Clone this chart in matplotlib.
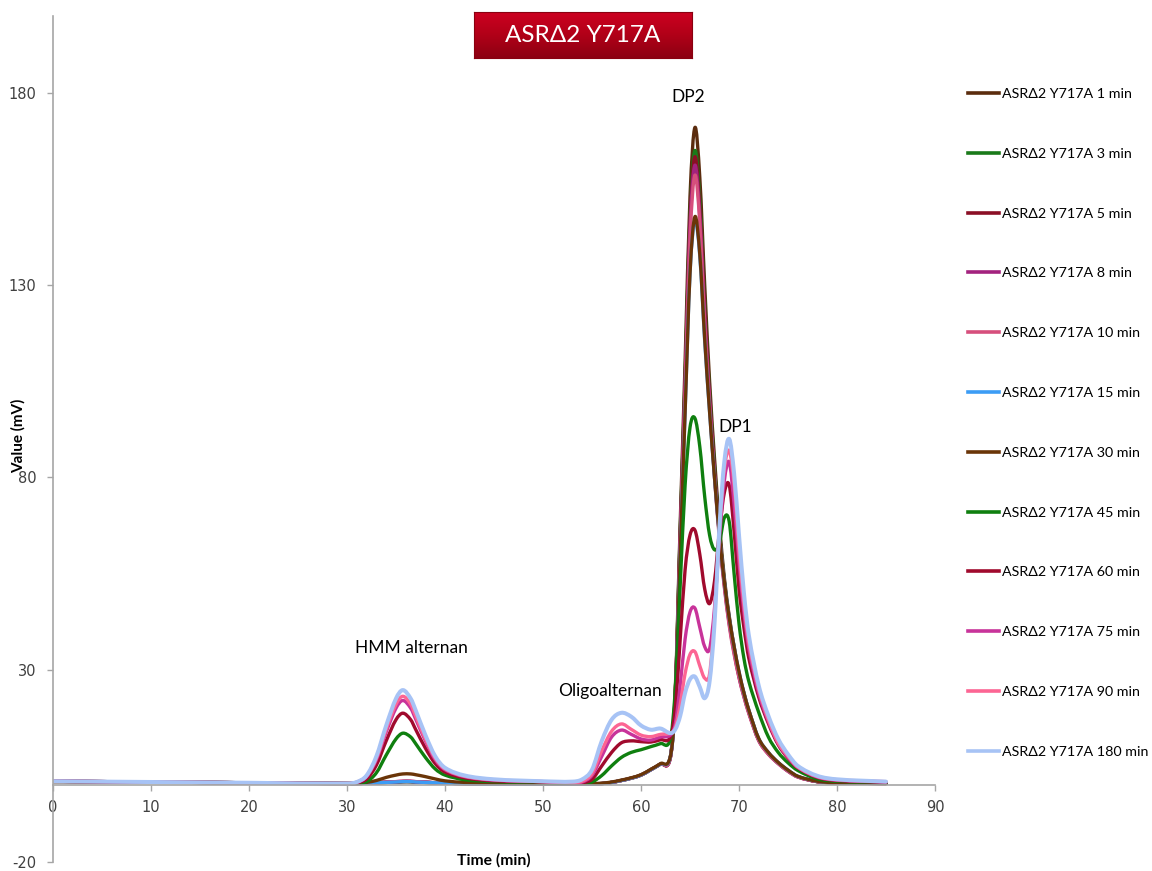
import numpy as np
import matplotlib
matplotlib.use("Agg")
import matplotlib.pyplot as plt
from matplotlib.path import Path
from matplotlib.patches import PathPatch
from matplotlib.lines import Line2D
from matplotlib.colors import LinearSegmentedColormap

plt.rcParams['font.family'] = ['Lato', 'DejaVu Sans']
plt.rcParams['axes.unicode_minus'] = False

# retention time grid (min)
time = [0, 10, 20, 30, 31, 32, 33, 34, 35, 35.7, 36.5, 37, 38, 39, 40, 42, 45, 50,
        53, 54, 55, 56, 57, 58, 59, 60, 61, 62,
        63, 63.5, 64, 64.5, 65, 65.5, 66, 66.5, 67, 67.5, 68, 68.5, 69, 69.5, 70,
        70.5, 71, 72, 73, 74, 75, 76, 78, 80, 85]

labels = ['ASRΔ2 Y717A 1 min', 'ASRΔ2 Y717A 3 min', 'ASRΔ2 Y717A 5 min',
          'ASRΔ2 Y717A 8 min', 'ASRΔ2 Y717A 10 min', 'ASRΔ2 Y717A 15 min',
          'ASRΔ2 Y717A 30 min', 'ASRΔ2 Y717A 45 min', 'ASRΔ2 Y717A 60 min',
          'ASRΔ2 Y717A 75 min', 'ASRΔ2 Y717A 90 min', 'ASRΔ2 Y717A 180 min']

colors = ['#5b2c0e', '#1a7a1a', '#8b0f25', '#a3237e', '#d64f7c', '#3c9cf5',
          '#6a3508', '#0f7f0f', '#a00a2d', '#c8339a', '#fc6593', '#a7c3f5']

# signal (mV) for each sample
min1 = [1.0, 0.8, 0.6, 0.4,
        0.4, 0.5, 0.6, 0.7, 0.8, 0.9, 0.9, 0.8, 0.7, 0.6, 0.5, 0.4, 0.3, 0.3,
        0.3, 0.3, 0.3, 0.4, 0.7, 1.2, 1.8, 2.6, 4.0, 5.5,
        7.5, 25, 68, 110, 153, 171, 158, 130, 105, 85, 68, 54, 44, 36, 29,
        24, 19.5, 12, 8.3, 5.8, 3.8, 2.2, 0.9, 0.6, 0.4]
min3 = [1.0, 0.8, 0.6, 0.4,
        0.4, 0.5, 0.6, 0.7, 0.8, 0.9, 0.9, 0.8, 0.7, 0.6, 0.5, 0.4, 0.3, 0.3,
        0.3, 0.3, 0.3, 0.4, 0.7, 1.2, 1.8, 2.6, 4.0, 5.5,
        7.3, 24, 66, 106, 148, 165, 152, 125, 102, 83, 66, 53, 43, 35, 28.5,
        23.5, 19, 11.8, 8.2, 5.7, 3.7, 2.2, 0.9, 0.6, 0.4]
min5 = [1.0, 0.8, 0.6, 0.4,
        0.4, 0.5, 0.6, 0.7, 0.8, 0.9, 0.9, 0.8, 0.7, 0.6, 0.5, 0.4, 0.3, 0.3,
        0.3, 0.3, 0.3, 0.4, 0.7, 1.2, 1.8, 2.6, 4.0, 5.5,
        7.2, 24, 65, 105, 147, 163.4, 150, 124, 101, 82, 65.5, 52.5, 42.5, 35, 28.5,
        23.5, 19, 11.8, 8.2, 5.7, 3.7, 2.2, 0.9, 0.6, 0.4]
min8 = [1.0, 0.8, 0.6, 0.4,
        0.4, 0.5, 0.6, 0.8, 0.9, 1.0, 1.0, 0.9, 0.8, 0.6, 0.5, 0.4, 0.3, 0.3,
        0.3, 0.3, 0.3, 0.4, 0.7, 1.2, 1.8, 2.6, 4.0, 5.5,
        7.2, 23.5, 64, 104, 145, 161.2, 148, 122, 100, 81, 65, 52, 42, 34.5, 28,
        23, 18.8, 11.7, 8.1, 5.6, 3.6, 2.1, 0.9, 0.6, 0.4]
min10 = [1.0, 0.8, 0.6, 0.4,
         0.4, 0.5, 0.6, 0.8, 0.9, 1.0, 1.0, 0.9, 0.8, 0.6, 0.5, 0.4, 0.3, 0.3,
         0.3, 0.3, 0.3, 0.4, 0.7, 1.2, 1.8, 2.6, 4.0, 5.5,
         7.1, 23, 63, 102, 142, 158.6, 146, 120, 99, 80, 64, 51.5, 41.5, 34, 28,
         23, 18.6, 11.6, 8.0, 5.6, 3.6, 2.1, 0.9, 0.6, 0.4]
min15 = [1.0, 0.8, 0.6, 0.4,
         0.4, 0.5, 0.6, 0.7, 0.8, 0.9, 0.9, 0.8, 0.7, 0.6, 0.5, 0.4, 0.3, 0.3,
         0.3, 0.3, 0.3, 0.4, 0.7, 1.2, 1.8, 2.6, 4.0, 5.5,
         7.4, 22, 60, 97, 133, 147, 137.5, 115.5, 97, 80, 65, 53, 43.5, 36, 29.5,
         24, 19.5, 12.2, 8.5, 5.9, 3.9, 2.3, 1.0, 0.6, 0.5]
min30 = [1.0, 0.8, 0.6, 0.4,
         0.5, 0.7, 1.2, 2.0, 2.6, 2.9, 2.9, 2.7, 2.2, 1.6, 1.1, 0.7, 0.5, 0.4,
         0.4, 0.4, 0.4, 0.5, 0.8, 1.3, 1.9, 2.7, 4.1, 5.6,
         7.5, 22, 60, 97, 133, 147.8, 138, 116, 97, 80, 65, 53, 43.5, 36, 29.5,
         24, 19.5, 12.2, 8.5, 5.9, 3.9, 2.3, 1.0, 0.6, 0.5]
min45 = [0.9, 0.8, 0.6, 0.4,
         0.5, 0.9, 3.2, 7.8, 12, 13.5, 12.5, 10.8, 7.2, 4.2, 2.6, 1.4, 0.9, 0.6,
         0.5, 0.5, 0.8, 2.5, 5.0, 7.2, 8.5, 9.2, 10, 10.8,
         12, 25, 52, 78, 93, 95.4, 88, 75, 65, 61.2, 63, 69.5, 68.5, 55, 42,
         33, 27, 19, 12.5, 8.5, 5.8, 3.8, 1.6, 1.0, 0.6]
min60 = [0.9, 0.8, 0.6, 0.4,
         0.6, 1.6, 5.2, 11.5, 17, 18.7, 17, 14.5, 9.6, 5.6, 3.4, 1.9, 1.1, 0.8,
         0.6, 0.6, 1.5, 5.0, 8.5, 11, 11.5, 11.3, 11.2, 11.8,
         12.5, 20, 38, 56, 65, 66.3, 60, 51, 47.2, 53, 66, 76, 78, 66, 51,
         41, 33, 23, 16, 10.5, 7.0, 4.5, 2.0, 1.2, 0.7]
min75 = [1.0, 0.8, 0.6, 0.4,
         0.7, 2.2, 6.6, 13.8, 20, 22, 20, 17.2, 11.5, 6.6, 4.0, 2.2, 1.3, 0.9,
         0.6, 0.8, 2.5, 7.5, 12.5, 14.3, 13.2, 12, 11.7, 12.5,
         13, 16, 26, 38, 45, 46, 41, 36, 35.5, 46, 64, 79, 84, 73, 58,
         45, 35.5, 24, 16.5, 10.8, 7.2, 4.6, 2.1, 1.3, 0.8]
min90 = [1.0, 0.8, 0.6, 0.4,
         0.8, 2.4, 7.0, 14.5, 21, 23.1, 21, 18, 12, 7.0, 4.2, 2.3, 1.4, 0.9,
         0.7, 1.0, 3.0, 9.0, 14, 15.9, 14.5, 13, 12.6, 13.2,
         13.5, 15, 21, 29, 34, 34.7, 31, 27.8, 29, 44, 66, 82, 87, 78, 61,
         47, 37, 25, 17, 11, 7.5, 4.7, 2.2, 1.4, 0.9]
min180 = [1.0, 0.8, 0.6, 0.4,
          0.8, 2.5, 7.5, 15.5, 22.5, 24.7, 22.5, 19.5, 13, 7.5, 4.5, 2.5, 1.5, 1.0,
          0.9, 1.5, 4.0, 11.5, 17, 18.8, 17.8, 15.5, 14.4, 14.7,
          13.5, 14.5, 18, 24, 27.5, 28.2, 25.5, 22.6, 27, 42, 67, 84, 90, 81, 65,
          50, 39, 26, 18, 12, 8.0, 5.0, 2.4, 1.5, 0.9]

series = [min1, min3, min5, min8, min10, min15, min30, min45, min60, min75, min90, min180]


def smooth_path(x, y):
    # Excel-style smoothed line: cubic bezier through the points
    x = np.asarray(x, float)
    y = np.asarray(y, float)
    n = len(x)
    m = np.zeros(n)
    m[1:-1] = (y[2:] - y[:-2]) / (x[2:] - x[:-2])
    m[0] = (y[1] - y[0]) / (x[1] - x[0])
    m[-1] = (y[-1] - y[-2]) / (x[-1] - x[-2])
    verts = [(x[0], y[0])]
    codes = [Path.MOVETO]
    for i in range(n - 1):
        h = x[i + 1] - x[i]
        verts += [(x[i] + h / 3, y[i] + m[i] * h / 3),
                  (x[i + 1] - h / 3, y[i + 1] - m[i + 1] * h / 3),
                  (x[i + 1], y[i + 1])]
        codes += [Path.CURVE4] * 3
    return Path(verts, codes)


fig = plt.figure(figsize=(11.52, 8.71), dpi=100)
ax = fig.add_axes([53 / 1152, 1 - 862 / 871, (935 - 53) / 1152, (862 - 16) / 871])

for vals, c, lab in zip(series, colors, labels):
    lw = 2.9 if lab.endswith('180 min') else 2.4
    ax.add_patch(PathPatch(smooth_path(time, vals), fill=False, edgecolor=c,
                           lw=lw, capstyle='round', joinstyle='round'))

ax.set_xlim(0, 90)
ax.set_ylim(-20, 200)
ax.set_xticks(range(0, 91, 10))
ax.set_yticks([-20, 30, 80, 130, 180])
for s in ['top', 'right']:
    ax.spines[s].set_visible(False)
ax.spines['bottom'].set_position(('data', 0))
for s in ['bottom', 'left']:
    ax.spines[s].set_color('#a6a6a6')
    ax.spines[s].set_linewidth(1.2)
ax.tick_params(axis='both', colors='#a6a6a6', labelcolor='#404040',
               labelsize=10.5, length=4, width=1, labelfontfamily='DejaVu Sans')
ax.tick_params(axis='x', pad=7)
ax.tick_params(axis='y', pad=8)

# peak labels
ax.text(64.8, 178.9, 'DP2', fontsize=12.5, ha='center', va='center')
ax.text(69.6, 93.1, 'DP1', fontsize=12.5, ha='center', va='center')
ax.text(36.6, 35.6, 'HMM alternan', fontsize=12.5, ha='center', va='center')
ax.text(56.8, 24.4, 'Oligoalternan', fontsize=12.5, ha='center', va='center')

fig.text(18 / 1152, 1 - 436 / 871, 'Value (mV)', rotation=90, fontsize=11,
         fontweight='bold', ha='center', va='center')
fig.text(494 / 1152, 1 - 860 / 871, 'Time (min)', fontsize=11.3,
         fontweight='bold', ha='center', va='center')

# title box with red gradient
tax = fig.add_axes([474 / 1152, 1 - 58 / 871, 218 / 1152, 46 / 871])
grad = np.linspace(0, 1, 64).reshape(-1, 1)
cmap = LinearSegmentedColormap.from_list('red', ['#cc0020', '#b10018', '#8c0012'])
tax.imshow(grad, aspect='auto', cmap=cmap, extent=[0, 1, 0, 1], origin='upper')
tax.set_xticks([])
tax.set_yticks([])
for s in tax.spines.values():
    s.set_color('#8a0010')
tax.text(0.5, 0.5, 'ASRΔ2 Y717A', color='white', fontsize=17.5,
         ha='center', va='center', transform=tax.transAxes)

handles = [Line2D([], [], color=c, lw=2.6) for c in colors]
fig.legend(handles, labels, loc='upper left', bbox_to_anchor=(968 / 1152, 1 - 88 / 871),
           frameon=False, fontsize=10.3, labelspacing=3.34, handlelength=2.2,
           handletextpad=0.2, borderaxespad=0, borderpad=0)

fig.savefig('out.png', dpi=100)
